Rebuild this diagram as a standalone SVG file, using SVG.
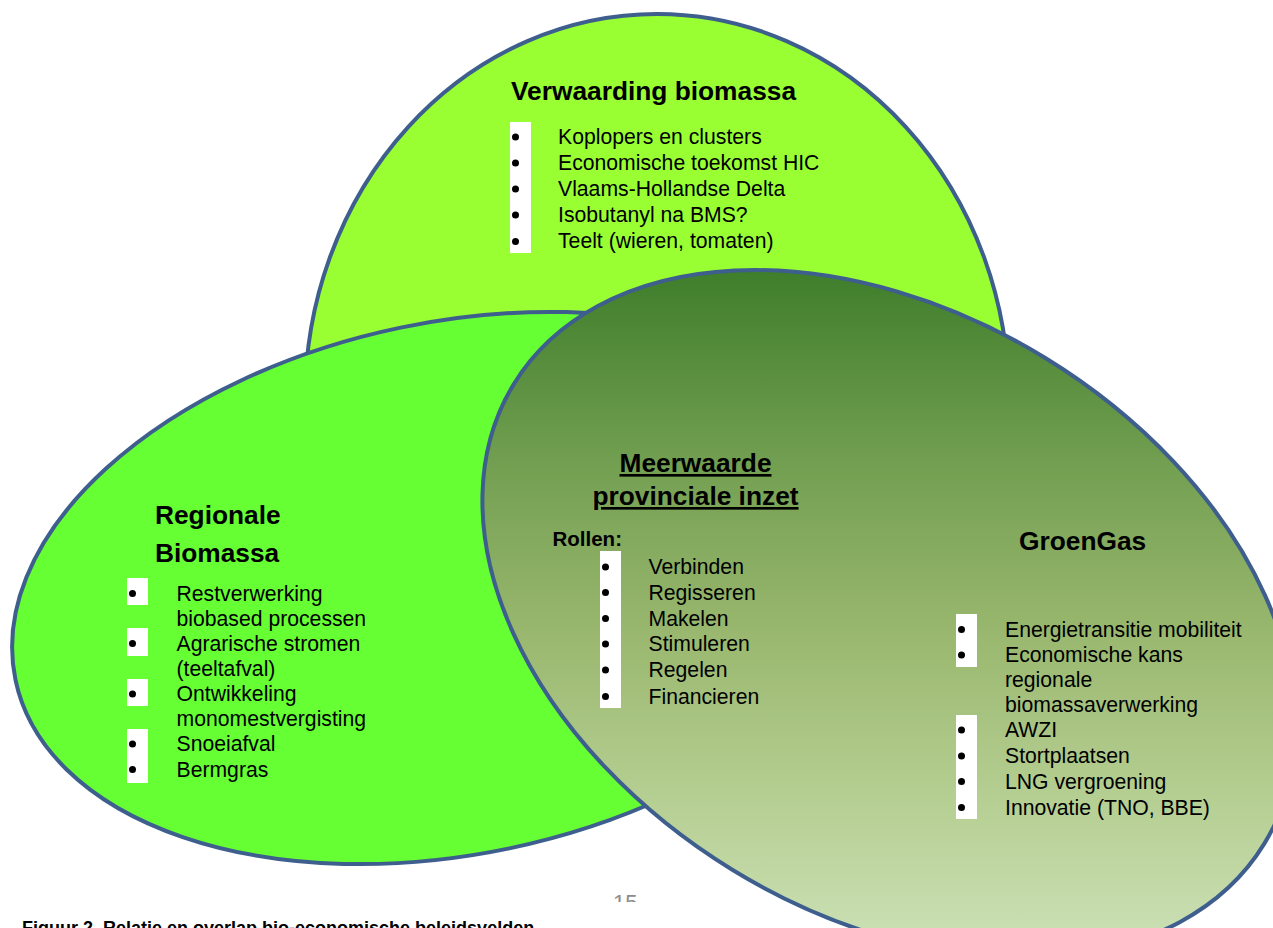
<svg xmlns="http://www.w3.org/2000/svg" width="1273" height="928" viewBox="0 0 1273 928">
  <defs>
    <linearGradient id="gGreen" gradientUnits="userSpaceOnUse" x1="0" y1="271" x2="0" y2="935" gradientTransform="rotate(-31.5 889 614)">
      <stop offset="0" stop-color="#3f7e2b"/>
      <stop offset="0.3" stop-color="#74a052"/>
      <stop offset="0.55" stop-color="#9ab86f"/>
      <stop offset="0.8" stop-color="#b6cf93"/>
      <stop offset="1" stop-color="#cadfb3"/>
    </linearGradient>
    <clipPath id="pgClip"><rect x="600" y="880" width="60" height="22"/></clipPath>
    <style>
      .shape { stroke: #3e5f8e; stroke-width: 4; }
      .title { font-family: "Liberation Sans", Arial, sans-serif; font-weight: bold; font-size: 26.3px; fill: #000; }
      .sub { font-family: "Liberation Sans", Arial, sans-serif; font-weight: bold; font-size: 20.5px; fill: #000; }
      .body { font-family: "Liberation Sans", Arial, sans-serif; font-size: 21.2px; fill: #000; }
      .bbox { fill: #ffffff; }
      .dot { fill: #000; }
      .page { font-family: "Liberation Sans", Arial, sans-serif; font-size: 22px; fill: #8c8c8c; }
      .caption { font-family: "Liberation Sans", Arial, sans-serif; font-weight: bold; font-size: 18px; fill: #000; }
    </style>
  </defs>
  <rect x="0" y="0" width="1273" height="928" fill="#ffffff"/>

  <g id="node-verwaarding">
    <ellipse class="shape" cx="657" cy="400" rx="352" ry="386" fill="#99ff33"/>
    <text class="title" x="511" y="100">Verwaarding biomassa</text>
    <rect class="bbox" x="510" y="122" width="21" height="131"/>
    <circle class="dot" cx="515.5" cy="137" r="3.5"/>
    <circle class="dot" cx="515.5" cy="163" r="3.5"/>
    <circle class="dot" cx="515.5" cy="189" r="3.5"/>
    <circle class="dot" cx="515.5" cy="215" r="3.5"/>
    <circle class="dot" cx="515.5" cy="241.5" r="3.5"/>
    <text class="body" x="558" y="144">Koplopers en clusters</text>
    <text class="body" x="558" y="170">Economische toekomst HIC</text>
    <text class="body" x="558" y="196">Vlaams-Hollandse Delta</text>
    <text class="body" x="558" y="221.5">Isobutanyl na BMS?</text>
    <text class="body" x="558" y="247.5">Teelt (wieren, tomaten)</text>
  </g>

  <g id="node-regionale">
    <ellipse class="shape" cx="455" cy="588" rx="449" ry="266" transform="rotate(-11.8 455 588)" fill="#66ff33"/>
    <text class="title" x="155" y="524">Regionale</text>
    <text class="title" x="155" y="562">Biomassa</text>
    <rect class="bbox" x="127" y="578" width="21" height="27"/>
    <rect class="bbox" x="127" y="628" width="21" height="28"/>
    <rect class="bbox" x="127" y="679" width="21" height="27"/>
    <rect class="bbox" x="127" y="729" width="21" height="54"/>
    <circle class="dot" cx="132.5" cy="593.5" r="3.5"/>
    <circle class="dot" cx="132.5" cy="643.5" r="3.5"/>
    <circle class="dot" cx="132.5" cy="694" r="3.5"/>
    <circle class="dot" cx="132.5" cy="744" r="3.5"/>
    <circle class="dot" cx="132.5" cy="769.5" r="3.5"/>
    <text class="body" x="176.5" y="600.5">Restverwerking</text>
    <text class="body" x="176.5" y="625.5">biobased processen</text>
    <text class="body" x="176.5" y="650.5">Agrarische stromen</text>
    <text class="body" x="176.5" y="675.5">(teeltafval)</text>
    <text class="body" x="176.5" y="701">Ontwikkeling</text>
    <text class="body" x="176.5" y="726">monomestvergisting</text>
    <text class="body" x="176.5" y="751">Snoeiafval</text>
    <text class="body" x="176.5" y="776.5">Bermgras</text>
  </g>

  <g id="node-groengas">
    <ellipse class="shape" cx="889" cy="614" rx="440" ry="300" transform="rotate(31.5 889 614)" fill="url(#gGreen)"/>
    <text class="title" x="1019" y="550">GroenGas</text>
    <rect class="bbox" x="956" y="614" width="21" height="53"/>
    <rect class="bbox" x="956" y="715" width="21" height="104"/>
    <circle class="dot" cx="961.5" cy="629.5" r="3.5"/>
    <circle class="dot" cx="961.5" cy="655" r="3.5"/>
    <circle class="dot" cx="961.5" cy="730" r="3.5"/>
    <circle class="dot" cx="961.5" cy="756" r="3.5"/>
    <circle class="dot" cx="961.5" cy="781.5" r="3.5"/>
    <circle class="dot" cx="961.5" cy="807.5" r="3.5"/>
    <text class="body" x="1005" y="636.5">Energietransitie mobiliteit</text>
    <text class="body" x="1005" y="662">Economische kans</text>
    <text class="body" x="1005" y="686.5">regionale</text>
    <text class="body" x="1005" y="711.5">biomassaverwerking</text>
    <text class="body" x="1005" y="737">AWZI</text>
    <text class="body" x="1005" y="763">Stortplaatsen</text>
    <text class="body" x="1005" y="788.5">LNG vergroening</text>
    <text class="body" x="1005" y="814.5">Innovatie (TNO, BBE)</text>
  </g>

  <g id="node-meerwaarde">
    <text class="title" x="695.5" y="472" text-anchor="middle" text-decoration="underline">Meerwaarde</text>
    <text class="title" x="695.5" y="505" text-anchor="middle" text-decoration="underline">provinciale inzet</text>
    <text class="sub" x="552.5" y="546">Rollen:</text>
    <rect class="bbox" x="600" y="551" width="21" height="157"/>
    <circle class="dot" cx="605.5" cy="567" r="3.5"/>
    <circle class="dot" cx="605.5" cy="592.5" r="3.5"/>
    <circle class="dot" cx="605.5" cy="618.5" r="3.5"/>
    <circle class="dot" cx="605.5" cy="644" r="3.5"/>
    <circle class="dot" cx="605.5" cy="670" r="3.5"/>
    <circle class="dot" cx="605.5" cy="696.5" r="3.5"/>
    <text class="body" x="648.5" y="574">Verbinden</text>
    <text class="body" x="648.5" y="599.5">Regisseren</text>
    <text class="body" x="648.5" y="625.5">Makelen</text>
    <text class="body" x="648.5" y="651">Stimuleren</text>
    <text class="body" x="648.5" y="677">Regelen</text>
    <text class="body" x="648.5" y="703.5">Financieren</text>
  </g>

  <g id="connectors"/>

  <g id="page-footer">
    <text class="page" x="613" y="910" clip-path="url(#pgClip)">15</text>
    <text class="caption" x="22" y="934">Figuur 2. Relatie en overlap bio-economische beleidsvelden</text>
  </g>
</svg>
